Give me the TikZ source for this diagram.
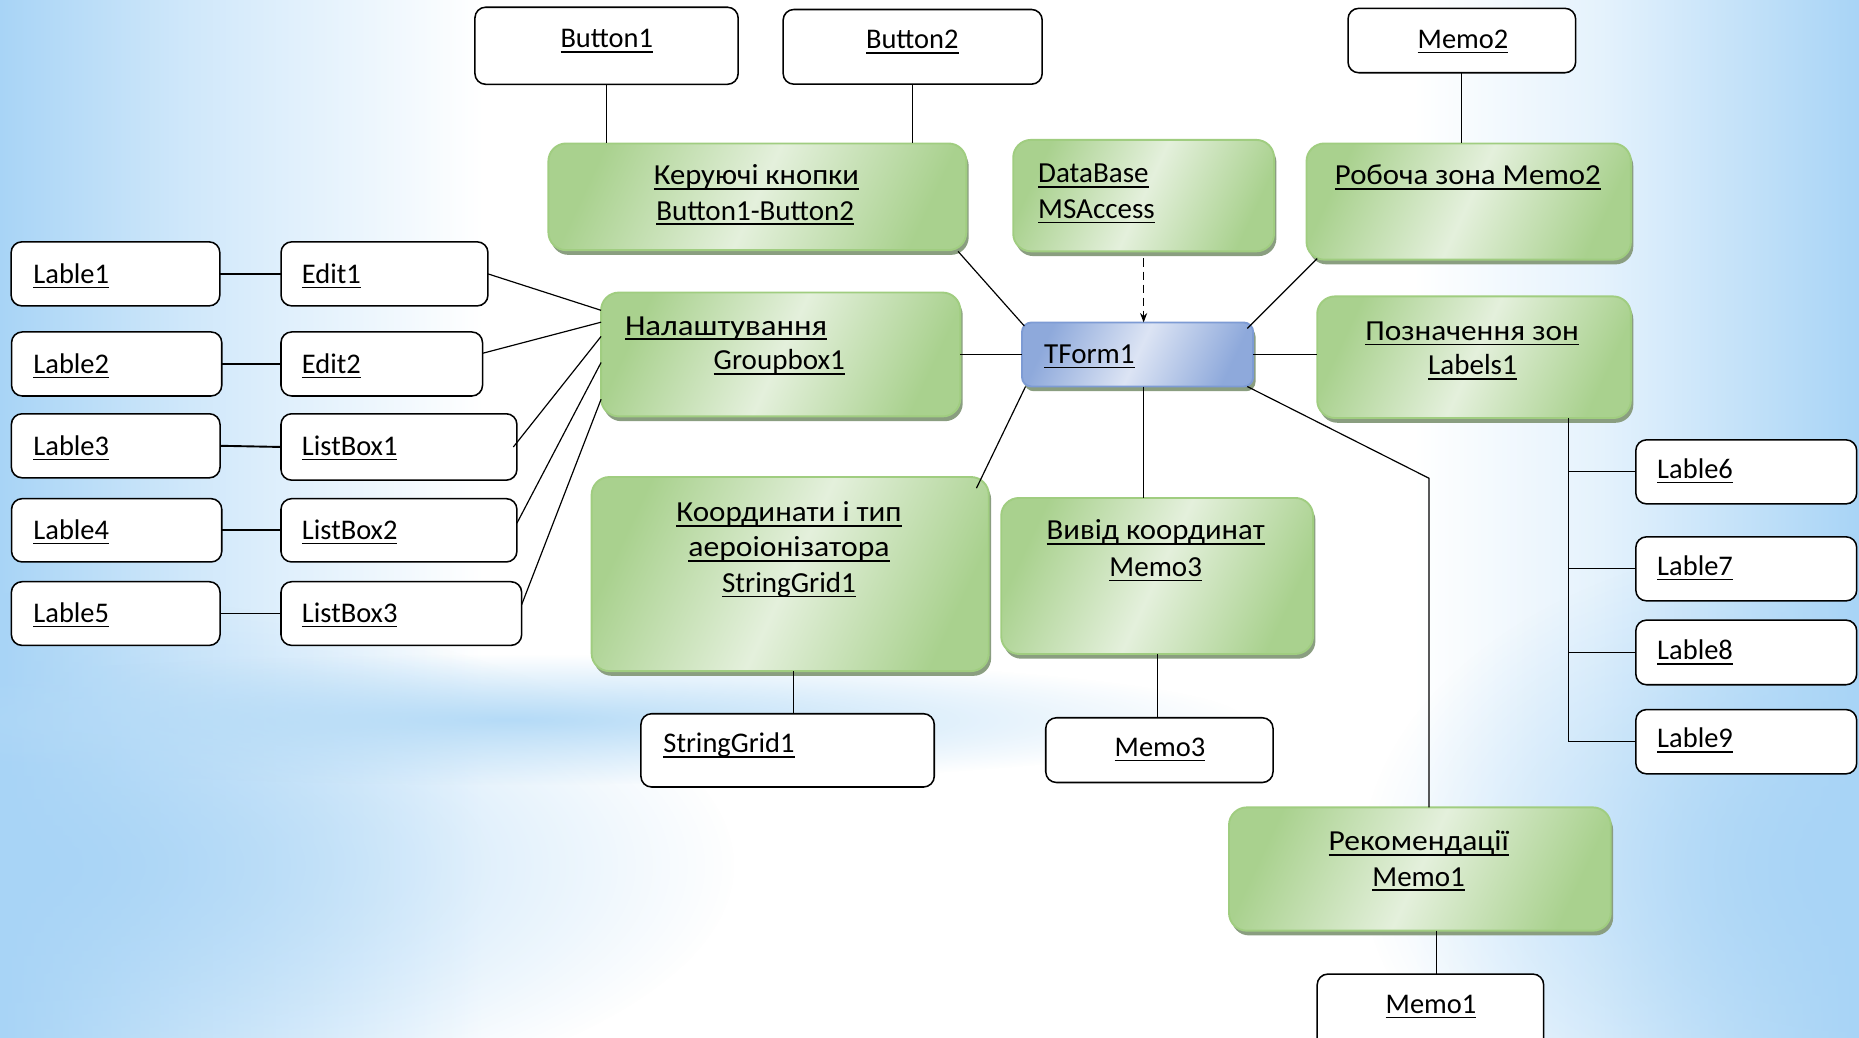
\documentclass[tikz,border=0pt]{standalone}
\usepackage{graphicx}
\usepackage{fontspec}
\setmainfont{Carlito}
\usetikzlibrary{shadows,arrows.meta,calc,fadings}
\definecolor{bgb}{RGB}{168,212,246}
\definecolor{gA}{RGB}{169,209,142}
\definecolor{gB}{RGB}{228,240,220}
\definecolor{gbord}{RGB}{160,205,128}
\definecolor{gshad}{RGB}{138,158,128}
\definecolor{bA}{RGB}{142,169,219}
\definecolor{bB}{RGB}{220,228,244}
\definecolor{bbord}{RGB}{125,155,212}
\pgfdeclarehorizontalshading{bgshade}{100bp}{color(0bp)=(bgb); color(25bp)=(bgb); color(30bp)=(bgb!55!white); color(38bp)=(white); color(63bp)=(white); color(68bp)=(bgb!30!white); color(75bp)=(bgb); color(100bp)=(bgb)}
\tikzfading[name=softblob, inner color=transparent!0, outer color=transparent!100]
\newcommand\ulx[1]{\setbox0=\hbox{#1}\rlap{\rule[-4.2pt]{\wd0}{1.3pt}}\box0}
\newcommand\hsc[2]{\scalebox{#1}[1]{#2}}
\begin{document}
\begin{tikzpicture}[x=1pt,y=-1pt,
  wbox/.style={draw=black, line width=1.3pt, fill=white, rounded corners=9pt, inner sep=0pt, outer sep=0pt},
  gbox/.style={draw=gbord, line width=1.6pt, rounded corners=15pt, inner sep=0pt, outer sep=0pt,
     left color=gA, right color=gA, middle color=gB, shading angle=65,
     drop shadow={shadow xshift=2pt, shadow yshift=-4pt, fill=gshad, opacity=1}},
  bbox/.style={draw=bbord, line width=1.6pt, rounded corners=8pt, inner sep=0pt, outer sep=0pt,
     left color=bA, right color=bA, middle color=bB, shading angle=65,
     drop shadow={shadow xshift=2pt, shadow yshift=-4pt, fill=gshad, opacity=1}},
  wt/.style={inner sep=0pt, font=\fontsize{24}{29}\selectfont, anchor=base west},
  wtc/.style={inner sep=0pt, font=\fontsize{24}{29}\selectfont, anchor=base},
  gt/.style={inner sep=0pt, font=\fontsize{24.5}{29}\selectfont, anchor=base},
  gtl/.style={inner sep=0pt, font=\fontsize{24.5}{29}\selectfont, anchor=base west},
  con/.style={draw=black, line width=1pt},
  tcon/.style={draw=black, line width=1.6pt}]
\useasboundingbox (0,0) rectangle (1568,875);
% background
\fill[white] (0,0) rectangle (1568,875);
\shade[shading=bgshade] (0,0) rectangle (1568,875);
\fill[bgb, path fading=softblob] (0,730) ellipse [x radius=620pt, y radius=230pt];
\fill[bgb!85!white, path fading=softblob] (430,607) ellipse [x radius=620pt, y radius=55pt];
\fill[bgb, path fading=softblob] (1568,730) ellipse [x radius=420pt, y radius=280pt];

% top white boxes
\node[wbox, minimum width=222pt, minimum height=65pt] (b1) at (511.6,38.6) {};
\node[wtc] (b1t) at (511.8,40.2) {\ulx{Button1}};
\node[wbox, minimum width=218.5pt, minimum height=63pt] (b2) at (769.8,39.5) {};
\node[wtc] (b2t) at (769.5,41) {\ulx{Button2}};
\node[wbox, minimum width=192pt, minimum height=54.3pt] (m2) at (1233,34.2) {};
\node[wtc] (m2t) at (1234,40.8) {\ulx{Memo2}};

% green boxes
\node[gbox, minimum width=352.5pt, minimum height=90pt] (kk) at (638.8,166) {};
\node[gt] (kka) at (638,156) {\ulx{\hsc{1.055}{Керуючі кнопки}}};
\node[gt] (kkb) at (637,185.6) {\ulx{Button1-Button2}};

\node[gbox, minimum width=220pt, minimum height=94pt] (db) at (964.6,165) {};
\node[gtl] (dba) at (875.5,154) {\ulx{DataBase}};
\node[gtl] (dbb) at (875.5,184) {\ulx{MSAccess}};

\node[gbox, minimum width=273.6pt, minimum height=98pt] (rz) at (1238.8,170) {};
\node[gt] (rzt) at (1238,156) {\ulx{\hsc{1.06}{Робоча зона Memo2}}};

\node[gbox, minimum width=303pt, minimum height=104.5pt] (gb) at (658.5,299) {};
\node[gtl] (gba) at (527,282.6) {\ulx{\hsc{1.13}{Налаштування}}};
\node[gt] (gbb) at (657.3,312) {\ulx{Groupbox1}};

\node[bbox, minimum width=195pt, minimum height=54pt] (tf) at (959.5,299) {};
\node[gtl] (tft) at (880.5,306.5) {\ulx{TForm1}};

\node[gbox, minimum width=264.6pt, minimum height=102.6pt] (pz) at (1243.3,301.3) {};
\node[gt] (pza) at (1241.6,287) {\ulx{\hsc{1.08}{Позначення зон}}};
\node[gt] (pzb) at (1242,316) {\ulx{Labels1}};

\node[gbox, minimum width=335pt, minimum height=163.7pt] (ko) at (666.5,484.2) {};
\node[gt] (koa) at (665.5,440) {\ulx{\hsc{1.07}{Координати і тип}}};
\node[gt] (kob) at (665.5,469.6) {\ulx{\hsc{1.09}{аероіонізатора}}};
\node[gt] (koc) at (665.5,499.5) {\ulx{StringGrid1}};

\node[gbox, minimum width=263pt, minimum height=131.6pt] (vy) at (976,485.8) {};
\node[gt] (vya) at (974.8,455.4) {\ulx{\hsc{1.06}{Вивід координат}}};
\node[gt] (vyb) at (974.8,486.2) {\ulx{Memo3}};

\node[gbox, minimum width=322pt, minimum height=104pt] (rk) at (1197.6,733) {};
\node[gt] (rka) at (1196.6,717.5) {\ulx{\hsc{1.085}{Рекомендації}}};
\node[gt] (rkb) at (1196.6,747.3) {\ulx{Memo1}};

% left white boxes
\node[wbox, minimum width=176pt, minimum height=54pt] (l1) at (97.4,231) {};
\node[wt] (l1t) at (28,239) {\ulx{Lable1}};
\node[wbox, minimum width=174.5pt, minimum height=54pt] (e1) at (324.3,231) {};
\node[wt] (e1t) at (254.5,239) {\ulx{Edit1}};
\node[wbox, minimum width=177.3pt, minimum height=54pt] (l2) at (98.4,307) {};
\node[wt] (l2t) at (28,315) {\ulx{Lable2}};
\node[wbox, minimum width=170pt, minimum height=54pt] (e2) at (322,307) {};
\node[wt] (e2t) at (254.5,315) {\ulx{Edit2}};
\node[wbox, minimum width=176pt, minimum height=54pt] (l3) at (97.6,376) {};
\node[wt] (l3t) at (28,384) {\ulx{Lable3}};
\node[wbox, minimum width=199pt, minimum height=56pt] (lb1) at (336.5,377) {};
\node[wt] (lb1t) at (254.5,384) {\ulx{ListBox1}};
\node[wbox, minimum width=177.3pt, minimum height=53.4pt] (l4) at (98.4,447.3) {};
\node[wt] (l4t) at (28,455) {\ulx{Lable4}};
\node[wbox, minimum width=199pt, minimum height=53.4pt] (lb2) at (336.5,447.3) {};
\node[wt] (lb2t) at (254.5,455) {\ulx{ListBox2}};
\node[wbox, minimum width=176pt, minimum height=53.7pt] (l5) at (97.6,517.5) {};
\node[wt] (l5t) at (28,525) {\ulx{Lable5}};
\node[wbox, minimum width=203pt, minimum height=53.7pt] (lb3) at (338.5,517.5) {};
\node[wt] (lb3t) at (254.5,525) {\ulx{ListBox3}};

% lower white boxes
\node[wbox, minimum width=247.4pt, minimum height=61.8pt] (sg) at (664.3,632.9) {};
\node[wt] (sgt) at (559.4,635) {\ulx{StringGrid1}};
\node[wbox, minimum width=191.7pt, minimum height=54.6pt] (m3) at (977.9,632.7) {};
\node[wtc] (m3t) at (978.4,637.8) {\ulx{Memo3}};
\node[wbox, minimum width=191pt, minimum height=64pt] (m1) at (1206.5,853.6) {};
\node[wtc] (m1t) at (1207,854.8) {\ulx{Memo1}};

% right white boxes
\node[wbox, minimum width=186.3pt, minimum height=54pt] (l6) at (1472.9,398) {};
\node[wt] (l6t) at (1397.6,403.5) {\ulx{Lable6}};
\node[wbox, minimum width=186.3pt, minimum height=54pt] (l7) at (1472.9,479.8) {};
\node[wt] (l7t) at (1397.6,485.3) {\ulx{Lable7}};
\node[wbox, minimum width=186.3pt, minimum height=54.5pt] (l8) at (1472.9,550.3) {};
\node[wt] (l8t) at (1397.6,556.4) {\ulx{Lable8}};
\node[wbox, minimum width=186.3pt, minimum height=54.2pt] (l9) at (1472.9,625.6) {};
\node[wt] (l9t) at (1397.6,630.6) {\ulx{Lable9}};

% connectors
\coordinate (bend) at (1205.3,403.4);
\coordinate (trunk) at (1323,625.6);
\coordinate (kos) at ($(ko.south)+(3,0)$);
\coordinate (rks) at ($(rk.south)+(14,0)$);
\draw[con] (b1.south) -- (b1.south |- kk.north);
\draw[con] (b2.south) -- (b2.south |- kk.north);
\draw[con] (m2.south) -- (m2.south |- rz.north);
\draw[con] ($(kk.south east)+(-7,1)$) -- ($(tf.north west)+(2,3)$);
\draw[con] ($(rz.south west)+(9,-1)$) -- ($(tf.north east)+(-5,5)$);
\draw[con, line width=1.2pt, dash pattern=on 7pt off 4pt, -{Stealth[length=8pt,width=6pt]}] ($(db.south)+(0,6)$) -- (db.south |- tf.north);
\draw[con] (gb.east) -- (tf.west);
\draw[con] (tf.east) -- (tf.east -| pz.west);
\draw[con] ($(tf.south west)+(3,0)$) -- ($(ko.north east)+(-10.4,9.4)$);
\draw[con] (db.south |- tf.south) -- (db.south |- vy.north);
\draw[con] ($(tf.south east)+(-5,0)$) -- (bend) -- (bend |- rk.north);
\draw[con] (kos) -- (kos |- sg.north);
\draw[con] (vy.south) -- (vy.south |- m3.north);
\draw[con] (rks) -- (rks |- m1.north);
\draw[con] (pz.south -| trunk) -- (trunk) -- (l9.west);
\draw[con] (l6.west -| trunk) -- (l6.west);
\draw[con] (l7.west -| trunk) -- (l7.west);
\draw[con] (l8.west -| trunk) -- (l8.west);
\draw[tcon] (l1.east) -- (e1.west);
\draw[tcon] (l2.east) -- (e2.west);
\draw[tcon] (l3.east) -- (lb1.west);
\draw[tcon] (l4.east) -- (lb2.west);
\draw[tcon] (l5.east) -- (lb3.west);
\draw[con] (e1.east) -- ($(gb.north west)+(0,15)$);
\draw[con] ($(e2.east)+(0,-9)$) -- ($(gb.north west)+(0,25)$);
\draw[con] ($(lb1.east)+(-3,0)$) -- ($(gb.north west)+(0,37)$);
\draw[con] ($(lb2.east)+(0,-6)$) -- ($(gb.north west)+(0,59)$);
\draw[con] ($(lb3.east)+(0,-7.5)$) -- ($(gb.north west)+(0,90)$);
\end{tikzpicture}
\end{document}
